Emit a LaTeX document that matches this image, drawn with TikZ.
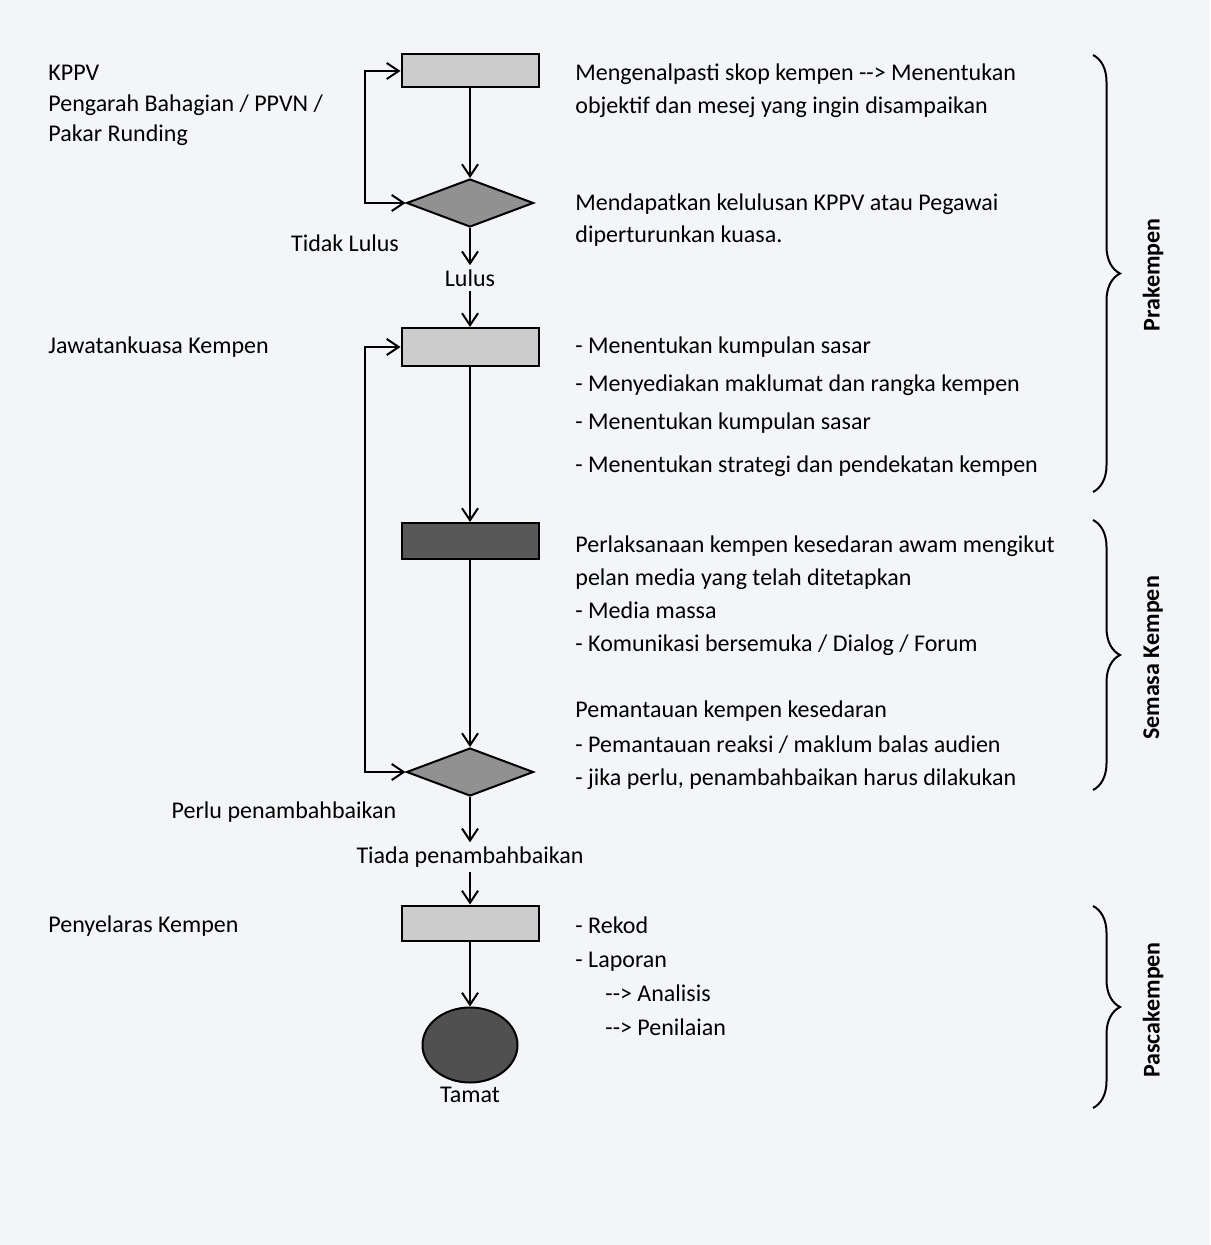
\documentclass[tikz,border=0pt]{standalone}
\usepackage{fontspec}
\setmainfont{Carlito}
\usetikzlibrary{arrows.meta,decorations.pathreplacing,shapes.geometric}
\definecolor{paper}{RGB}{244,245,248}
\definecolor{lightbox}{RGB}{204,204,204}
\definecolor{darkbox}{RGB}{88,88,88}
\definecolor{diam}{RGB}{145,145,145}
\definecolor{endfill}{RGB}{80,80,80}

\tikzset{
  stepbox/.style={draw,line width=1pt,minimum width=68.5pt,inner sep=0pt},
  check/.style={diamond,draw,line width=1pt,fill=diam,minimum width=63.5pt,minimum height=24pt,inner sep=0pt},
  endnode/.style={ellipse,draw,line width=1pt,fill=endfill,minimum width=47.5pt,minimum height=37.5pt,inner sep=0pt},
  txt/.style={anchor=base west,align=left,inner sep=0pt,font=\fontsize{12}{16.5}\selectfont},
  lbl/.style={inner sep=2pt,font=\fontsize{12}{16.5}\selectfont},
  phase/.style={rotate=90,font=\fontsize{12}{14}\selectfont\bfseries},
  brc/.style={decorate,decoration={brace,amplitude=13.5pt},line width=1pt}
}
% arrow written as text, without the en dash ligature
\newcommand{\txtarrow}{{-}{-}>}

\begin{document}
\begin{tikzpicture}[x=0.5pt,y=-0.5pt,>={Straight Barb[length=6pt,width=8pt]}]
\fill [paper] (0,0) rectangle (1210,1245);
\useasboundingbox (0,0) rectangle (1210,1245);
% flow
\node [stepbox,fill=lightbox,minimum height=16.5pt] (skop) at (470,71) {};
\node [check] (lulus1) at (470,203) {};
\node [lbl] (lulus) at (470,278) {Lulus};
\node [lbl] (tidak) at (345,243) {Tidak Lulus};
\node [stepbox,fill=lightbox,minimum height=19pt] (rangka) at (470,347) {};
\node [stepbox,fill=darkbox,minimum height=18pt] (laksana) at (470,541) {};
\node [check] (pantau) at (470,772) {};
\node [lbl] (perlu) at (284,812) {Perlu penambahbaikan};
\node [lbl] (tiada) at (470,857) {Tiada penambahbaikan};
\node [stepbox,fill=lightbox,minimum height=17.5pt] (rekod) at (470,923) {};
\node [endnode] (tamat) at (470,1045) {};
\node [lbl] (tamatlbl) at (470,1095) {Tamat};
\draw [line width=1pt,->] (skop) -- (lulus1);
\draw [line width=1pt,->] (lulus1) -- (lulus);
\draw [line width=1pt,->] (lulus) -- (rangka);
\draw [line width=1pt,<->] (lulus1.west) -- ++(-41,0) |- (skop.west);
\draw [line width=1pt,->] (rangka) -- (laksana);
\draw [line width=1pt,->] (laksana) -- (pantau);
\draw [line width=1pt,<->] (pantau.west) -- ++(-41,0) |- (rangka.west);
\draw [line width=1pt,->] (pantau) -- (tiada);
\draw [line width=1pt,->] (tiada) -- (rekod);
\draw [line width=1pt,->] (rekod) -- (tamat);
% who
\node [txt] (kppv) at (48,81) {KPPV};
\node [txt] (pengarah) at (48,112) {Pengarah Bahagian / PPVN /};
\node [txt] (pakar) at (48,142) {Pakar Runding};
\node [txt] (jk) at (48,354) {Jawatankuasa Kempen};
\node [txt] (penyelaras) at (48,932) {Penyelaras Kempen};
% what
\node [txt] (t1) at (575,114) {Mengenalpasti skop kempen \txtarrow{} Menentukan\\objektif dan mesej yang ingin disampaikan};
\node [txt] (t2) at (575,243) {Mendapatkan kelulusan KPPV atau Pegawai\\[-0.5pt]diperturunkan kuasa.};
\node [txt] (t3) at (575,472) {- Menentukan kumpulan sasar\\[2.5pt]- Menyediakan maklumat dan rangka kempen\\[2.5pt]- Menentukan kumpulan sasar\\[4.5pt]- Menentukan strategi dan pendekatan kempen};
\node [txt] (t4) at (575,651) {Perlaksanaan kempen kesedaran awam mengikut\\pelan media yang telah ditetapkan\\- Media massa\\- Komunikasi bersemuka / Dialog / Forum};
\node [txt] (t5) at (575,785) {Pemantauan kempen kesedaran\\[1pt]- Pemantauan reaksi / maklum balas audien\\- jika perlu, penambahbaikan harus dilakukan};
\node [txt] (t6) at (575,1035) {- Rekod\\[0.5pt]- Laporan\\[0.5pt]\hspace{15pt}\txtarrow{} Analisis\\[0.5pt]\hspace{15pt}\txtarrow{} Penilaian};
% phases
\draw [brc] (1093,55) -- (1093,492);
\draw [brc] (1093,520) -- (1093,790);
\draw [brc] (1093,906) -- (1093,1108);
\node [phase] (pra) at (1153,275) {Prakempen};
\node [phase] (semasa) at (1153,658) {Semasa Kempen};
\node [phase] (pasca) at (1153,1010) {Pascakempen};
\end{tikzpicture}
\end{document}
